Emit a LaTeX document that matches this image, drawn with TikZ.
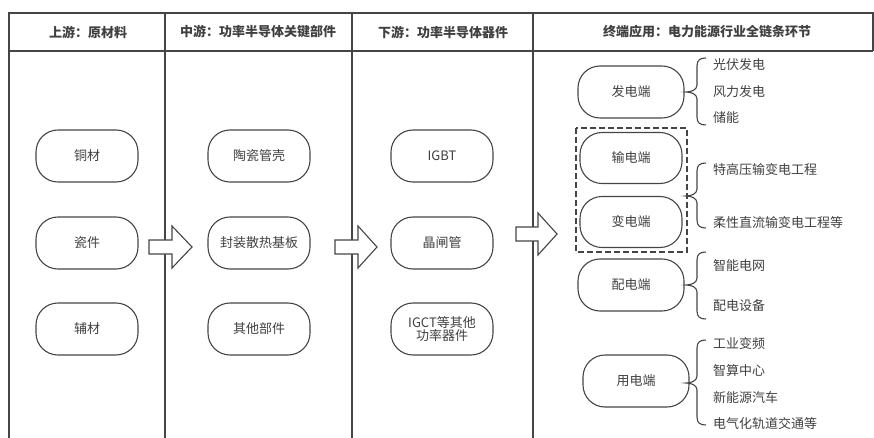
\documentclass[tikz,border=0pt]{standalone}
\usepackage{fontspec}
\setmainfont{Noto Sans CJK SC}
\definecolor{linec}{HTML}{454545}
\definecolor{textc}{HTML}{404040}
\begin{document}
\begin{tikzpicture}[x=1pt,y=-1pt,
  frame/.style={draw=linec,line width=1.3pt},
  hdr/.style={font=\fontsize{13}{15}\selectfont\bfseries,text=textc},
  pill/.style={draw=linec,line width=1.1pt,rounded corners=22pt,minimum width=102pt,minimum height=52pt,inner sep=0pt,align=center,font=\fontsize{13}{16}\selectfont,text=textc},
  item/.style={anchor=west,inner sep=0pt,font=\fontsize{13}{15}\selectfont,text=textc},
  bigarrow/.style={draw=linec,line width=1.1pt,fill=white,line join=miter},
  brc/.style={draw=linec,line width=1.1pt}
]
\useasboundingbox (0,0) rectangle (874,438);
% frame
\draw[frame] (9,438) -- (9,13) -- (873,13) -- (873,51);
\draw[frame] (9,51) -- (873,51);
\draw[frame] (165,13) -- (165,438);
\draw[frame] (352,13) -- (352,438);
\draw[frame] (533,13) -- (533,438);
% headers
\node[hdr] (h1) at (88,32) {上游：原材料};
\node[hdr] (h2) at (258,32) {中游：功率半导体关键部件};
\node[hdr] (h3) at (443,32) {下游：功率半导体器件};
\node[hdr] (h4) at (707,32) {终端应用：电力能源行业全链条环节};
% column 1
\node[pill] (a1) at (87,156) {铜材};
\node[pill] (a2) at (87,243) {瓷件};
\node[pill] (a3) at (87,329) {辅材};
% column 2
\node[pill] (b1) at (259,156) {陶瓷管壳};
\node[pill] (b2) at (259,243) {封装散热基板};
\node[pill] (b3) at (259,329) {其他部件};
% column 3
\node[pill] (c1) at (442,156) {IGBT};
\node[pill] (c2) at (442,243) {晶闸管};
\node[pill] (c3) at (442,329) {IGCT等其他\\[-3pt]功率器件};
% arrows
\draw[bigarrow] (149,240) -- (172,240) -- (172,226) -- (192,247) -- (172,268) -- (172,254) -- (149,254) -- cycle;
\draw[bigarrow] (335,240) -- (358,240) -- (358,226) -- (377,247) -- (358,268) -- (358,254) -- (335,254) -- cycle;
\draw[bigarrow] (516,227) -- (538,227) -- (538,213) -- (557,234) -- (538,255) -- (538,241) -- (516,241) -- cycle;
% column 4
\node[pill,minimum width=106pt] (d1) at (631,92) {发电端};
\node[pill,minimum width=102pt,minimum height=51pt] (d2) at (631,158) {输电端};
\node[pill,minimum width=102pt,minimum height=51pt] (d3) at (631,222) {变电端};
\node[pill,minimum width=106pt] (d4) at (631,285) {配电端};
\node[pill,minimum width=106pt] (d5) at (636,381) {用电端};
\draw[draw=linec,line width=1.1pt,dash pattern=on 6pt off 3pt] (576,128) rectangle (687,252);
% braces
\newcommand{\mybrace}[3]{%
\draw[brc] (706,#1) .. controls (700,#1) and (697,#1+2) .. (697,#1+8) -- (697,#2-7) .. controls (697,#2-2) and (691,#2) .. (686,#2) .. controls (691,#2) and (697,#2+2) .. (697,#2+7) -- (697,#3-8) .. controls (697,#3-2) and (700,#3) .. (706,#3);}
\mybrace{58}{92}{125}
\mybrace{163}{196}{228}
\mybrace{252}{285}{319}
\mybrace{340}{383}{425}
% items
\node[item] (e1) at (713,65) {光伏发电};
\node[item] (e2) at (713,92) {风力发电};
\node[item] (e3) at (713,118) {储能};
\node[item] (f1) at (713,170) {特高压输变电工程};
\node[item] (f2) at (713,223) {柔性直流输变电工程等};
\node[item] (g1) at (713,266) {智能电网};
\node[item] (g2) at (713,306) {配电设备};
\node[item] (k1) at (713,344) {工业变频};
\node[item] (k2) at (713,371) {智算中心};
\node[item] (k3) at (713,398) {新能源汽车};
\node[item] (k4) at (713,424) {电气化轨道交通等};
\end{tikzpicture}
\end{document}
